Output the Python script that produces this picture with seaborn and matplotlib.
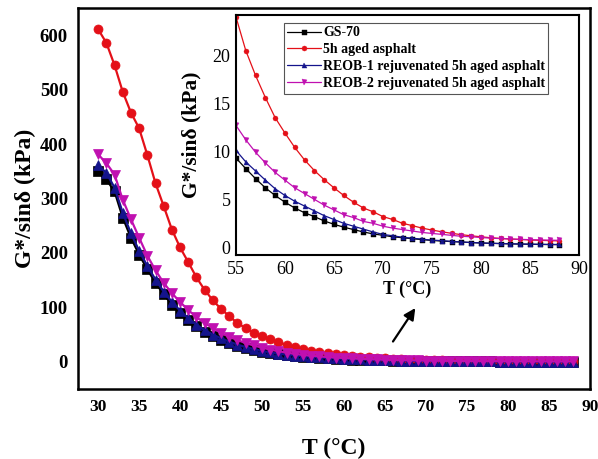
import matplotlib
matplotlib.use('Agg')
import matplotlib.pyplot as plt
import seaborn as sns

# ---------------- data ----------------
T = list(range(30, 89))

gs70 = [350, 335, 313, 265, 228, 197, 170, 145, 124, 105,
        90, 77, 65, 55, 47, 40, 34, 29, 25, 21.5,
        18.5, 16, 13.9, 12.1, 10.6, 9.3, 8.2, 7.15, 6.2, 5.4,
        4.7, 4.1, 3.6, 3.2, 2.75, 2.4, 2.1, 1.85, 1.6, 1.4,
        1.25, 1.1, 1.0, 0.9, 0.8, 0.72, 0.65, 0.6, 0.55, 0.5,
        0.45, 0.42, 0.39, 0.36, 0.34, 0.32, 0.3, 0.29, 0.28]

aged5h = [611, 586, 545, 496, 458, 429, 380, 328, 286, 243,
          210, 183, 155, 132, 113, 97, 84, 71, 62, 53,
          47, 41, 36, 31, 27.5, 24.0, 20.5, 17.9, 15.6, 13.5,
          11.9, 10.4, 9.1, 8.0, 7.05, 6.2, 5.4, 4.7, 4.1, 3.7,
          3.2, 2.9, 2.5, 2.26, 2.0, 1.8, 1.62, 1.46, 1.32, 1.2,
          1.1, 1.0, 0.93, 0.87, 0.82, 0.77, 0.73, 0.7, 0.67]

reob1 = [361, 347, 320, 274, 236, 204, 176, 151, 129, 110,
         94, 80, 68, 58, 50, 43, 37, 31.5, 27, 23.2,
         20, 17.3, 15, 13, 11.5, 10.1, 8.9, 7.95, 7.0, 6.1,
         5.4, 4.8, 4.3, 3.8, 3.3, 2.9, 2.5, 2.2, 1.9, 1.6,
         1.35, 1.2, 1.05, 0.95, 0.85, 0.75, 0.7, 0.62, 0.56, 0.5,
         0.46, 0.42, 0.4, 0.37, 0.35, 0.33, 0.32, 0.3, 0.3]

reob2 = [381, 365, 344, 298, 262, 228, 195, 168, 145, 126,
         110, 95, 82, 71, 62, 53, 46, 40, 34.5, 30,
         26, 22.5, 19.5, 16.8, 14.6, 12.7, 11.2, 9.9, 8.8, 7.8,
         7.0, 6.2, 5.6, 5.0, 4.4, 3.9, 3.4, 3.1, 2.7, 2.5,
         2.2, 2.0, 1.85, 1.7, 1.55, 1.45, 1.35, 1.25, 1.15, 1.1,
         1.02, 0.96, 0.91, 0.87, 0.83, 0.8, 0.77, 0.75, 0.73]

labels = ["GS-70", "5h aged asphalt",
          "REOB-1 rejuvenated 5h aged asphalt",
          "REOB-2 rejuvenated 5h aged asphalt"]
series = [gs70, aged5h, reob1, reob2]
colors = ["#000000", "#e41018", "#14148c", "#c010b0"]
markers = ["s", "o", "^", "v"]

main_xticks = [30, 35, 40, 45, 50, 55, 60, 65, 70, 75, 80, 85, 90]
main_yticks = [0, 100, 200, 300, 400, 500, 600]
inset_xticks = [55, 60, 65, 70, 75, 80, 85, 90]
inset_yticks = [0, 5, 10, 15, 20]

# ---------------- style ----------------
sns.set_style("white")
plt.rcParams['font.family'] = ['Liberation Serif', 'DejaVu Serif']
plt.rcParams['text.color'] = 'black'
plt.rcParams['axes.labelcolor'] = 'black'
plt.rcParams['xtick.color'] = 'black'
plt.rcParams['ytick.color'] = 'black'

fig = plt.figure(figsize=(5.98, 4.59), dpi=100)
ax = fig.add_axes([0.1299, 0.1525, 0.8562, 0.830])
ax_in = fig.add_axes([0.3946, 0.4444, 0.5736, 0.5229])

# main plot
for ys, c, m in zip(series, colors, markers):
    sns.lineplot(x=T, y=ys, ax=ax, color=c, marker=m, markersize=6.5,
                 linewidth=1.6, markeredgecolor=c, markeredgewidth=0.5)

ax.set_xlim(27.5, 90)
ax.set_ylim(-50, 650)
ax.set_xticks(main_xticks)
ax.set_yticks(main_yticks)
ax.tick_params(length=0, labelsize=13, pad=7)
plt.setp(ax.get_xticklabels(), fontweight='bold', fontsize=12.5)
plt.setp(ax.get_yticklabels(), fontweight='bold', fontsize=13.5)
ax.set_xlabel("T (°C)", fontsize=17, fontweight='bold', labelpad=17)
ax.set_ylabel("G*/sinδ (kPa)", fontsize=17, fontweight='bold', labelpad=3)
for s in ax.spines.values():
    s.set_linewidth(1.8)
    s.set_color('black')

ax.annotate('', xy=(68.9, 103), xytext=(65.8, 33),
            arrowprops=dict(arrowstyle='-|>', color='black', lw=1.6,
                            mutation_scale=17))

# inset
for ys, c, m, lab in zip(series, colors, markers, labels):
    sns.lineplot(x=T, y=ys, ax=ax_in, color=c, marker=m, markersize=3.6,
                 linewidth=0.9, markeredgecolor=c, markeredgewidth=0.3,
                 label=lab)

ax_in.set_xlim(55, 90)
ax_in.set_ylim(-0.8, 24.2)
ax_in.set_xticks(inset_xticks)
ax_in.set_yticks(inset_yticks)
ax_in.tick_params(length=0, labelsize=13, pad=4)
ax_in.set_xlabel("T (°C)", fontsize=13, fontweight='bold', labelpad=2)
ax_in.set_ylabel("G*/sinδ (kPa)", fontsize=15.5, fontweight='bold', labelpad=8)
for s in ax_in.spines.values():
    s.set_linewidth(1.5)
    s.set_color('black')

leg = ax_in.legend(loc='upper left', bbox_to_anchor=(0.14, 0.967),
                   frameon=True, fancybox=False, edgecolor='#555555',
                   framealpha=1, borderpad=0.25, borderaxespad=0,
                   handlelength=2.4, handletextpad=0.15, labelspacing=0.28,
                   prop={'weight': 'bold', 'size': 10})
leg.get_frame().set_linewidth(0.8)

fig.savefig("out.png", dpi=100)
